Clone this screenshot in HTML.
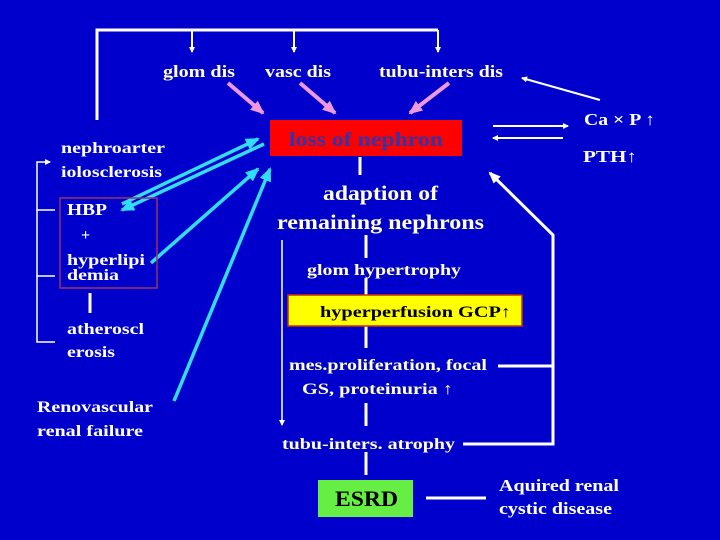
<!DOCTYPE html>
<html><head><meta charset="utf-8"><style>
html,body{margin:0;padding:0;background:#0000CC;}
svg{display:block}
text{font-family:"Liberation Serif",serif;font-weight:bold;}
.c{fill:#FFFFCC}.w{fill:#FFFFFF}
</style></head><body>
<svg width="720" height="540" viewBox="0 0 720 540" xmlns="http://www.w3.org/2000/svg">
<defs>
<marker id="aw" markerWidth="6" markerHeight="6" refX="5" refY="3" orient="auto" markerUnits="userSpaceOnUse"><path d="M0,0 L6,3 L0,6 z" fill="#fff"/></marker>
<marker id="ap" markerWidth="14" markerHeight="12" refX="12" refY="6" orient="auto" markerUnits="userSpaceOnUse"><path d="M0,0 L14,6 L0,12 z" fill="#EE99DD"/></marker>
<marker id="ac" markerWidth="14" markerHeight="12" refX="12" refY="6" orient="auto" markerUnits="userSpaceOnUse"><path d="M0,0 L14,6 L0,12 z" fill="#33DDFF"/></marker>
<marker id="aw2" markerWidth="12" markerHeight="10" refX="10" refY="5" orient="auto" markerUnits="userSpaceOnUse"><path d="M0,0 L12,5 L0,10 z" fill="#fff"/></marker>
</defs>
<g stroke="#fff" stroke-width="3" fill="none">
<polyline points="97,120 97,30 438,30"/>
</g>
<g stroke="#fff" stroke-width="2" fill="none">
<line x1="192" y1="30" x2="192" y2="52" marker-end="url(#aw)"/>
<line x1="294" y1="30" x2="294" y2="52" marker-end="url(#aw)"/>
<line x1="438" y1="30" x2="438" y2="52" marker-end="url(#aw)"/>
<line x1="493" y1="126" x2="568" y2="126" marker-end="url(#aw)"/>
<line x1="563" y1="138" x2="493" y2="138" marker-end="url(#aw)"/>
<line x1="600" y1="100" x2="522" y2="78" marker-end="url(#aw)"/>
<line x1="282" y1="240" x2="282" y2="425" stroke-width="1.5" marker-end="url(#aw)"/>
</g>
<g stroke="#fff" stroke-width="1.5" fill="none">
<polyline points="55,210 37,210 37,162 50,162" marker-end="url(#aw)"/>
<polyline points="55,276 37,276 37,342 55,342"/>
<line x1="37" y1="210" x2="37" y2="276"/>
</g>
<g stroke="#fff" stroke-width="3" fill="none">
<polyline points="463,444 553,444 553,235 490,173" marker-end="url(#aw2)"/>
<line x1="498" y1="366" x2="553" y2="366"/>
<line x1="360" y1="157" x2="360" y2="175"/>
<line x1="366" y1="235" x2="366" y2="258"/>
<line x1="366" y1="278" x2="366" y2="295"/>
<line x1="366" y1="326" x2="366" y2="348"/>
<line x1="366" y1="403" x2="366" y2="426"/>
<line x1="366" y1="452" x2="366" y2="475"/>
<line x1="90" y1="293" x2="90" y2="313"/>
<line x1="426" y1="498" x2="486" y2="498"/>
</g>
<g stroke="#EE99DD" stroke-width="4">
<line x1="228" y1="83" x2="263" y2="113" marker-end="url(#ap)"/>
<line x1="300" y1="83" x2="335" y2="113" marker-end="url(#ap)"/>
<line x1="449" y1="83" x2="410" y2="113" marker-end="url(#ap)"/>
</g>
<g stroke="#33DDFF" stroke-width="3.5">
<line x1="122" y1="204" x2="258" y2="139" marker-end="url(#ac)"/>
<line x1="264" y1="144" x2="122" y2="210" marker-end="url(#ac)"/>
<line x1="151" y1="263" x2="258" y2="169" marker-end="url(#ac)"/>
<line x1="174" y1="401" x2="270" y2="169" marker-end="url(#ac)"/>
</g>
<rect x="270" y="120" width="192" height="36" fill="#FF0000"/>
<text x="289" y="146" font-size="20" fill="#3333AA" textLength="154" lengthAdjust="spacingAndGlyphs">loss of nephron</text>
<rect x="60" y="198" width="97" height="90" fill="none" stroke="#993366" stroke-width="1.5"/>
<rect x="288" y="295" width="234" height="31" fill="#FFFF00" stroke="#CC3300" stroke-width="1.5"/>
<rect x="318" y="480" width="95" height="37" fill="#66EE44"/>
<g lengthAdjust="spacingAndGlyphs">
<text class="c" x="163" y="77" font-size="17" textLength="72" lengthAdjust="spacingAndGlyphs">glom dis</text>
<text class="c" x="265" y="77" font-size="17" textLength="66" lengthAdjust="spacingAndGlyphs">vasc dis</text>
<text class="c" x="379" y="77" font-size="17" textLength="124" lengthAdjust="spacingAndGlyphs">tubu-inters dis</text>
<text class="w" x="61" y="153" font-size="16" textLength="104" lengthAdjust="spacingAndGlyphs">nephroarter</text>
<text class="w" x="61" y="177" font-size="16" textLength="101" lengthAdjust="spacingAndGlyphs">iolosclerosis</text>
<text class="w" x="67" y="215" font-size="17" textLength="40" lengthAdjust="spacingAndGlyphs">HBP</text>
<text class="w" x="81" y="240" font-size="16" font-weight="normal">+</text>
<text class="w" x="67" y="265" font-size="16" textLength="78" lengthAdjust="spacingAndGlyphs">hyperlipi</text>
<text class="w" x="67" y="280" font-size="16" textLength="52" lengthAdjust="spacingAndGlyphs">demia</text>
<text class="w" x="67" y="334" font-size="16" textLength="77" lengthAdjust="spacingAndGlyphs">atheroscl</text>
<text class="w" x="67" y="357" font-size="16" textLength="48" lengthAdjust="spacingAndGlyphs">erosis</text>
<text class="w" x="37" y="412" font-size="16" textLength="116" lengthAdjust="spacingAndGlyphs">Renovascular</text>
<text class="w" x="37" y="436" font-size="16" textLength="106" lengthAdjust="spacingAndGlyphs">renal failure</text>
<text class="w" x="584" y="125" font-size="17" textLength="71" lengthAdjust="spacingAndGlyphs">Ca × P ↑</text>
<text class="w" x="583" y="162" font-size="17" textLength="54" lengthAdjust="spacingAndGlyphs">PTH↑</text>
<text class="c" x="323" y="200" font-size="21" textLength="115" lengthAdjust="spacingAndGlyphs">adaption of</text>
<text class="c" x="277" y="229" font-size="21" textLength="207" lengthAdjust="spacingAndGlyphs">remaining nephrons</text>
<text class="c" x="307" y="275" font-size="16" textLength="154" lengthAdjust="spacingAndGlyphs">glom hypertrophy</text>
<text x="320" y="317" font-size="16" fill="#000" textLength="191" lengthAdjust="spacingAndGlyphs">hyperperfusion GCP↑</text>
<text class="c" x="289" y="370" font-size="16" textLength="198" lengthAdjust="spacingAndGlyphs">mes.proliferation, focal</text>
<text class="c" x="302" y="394" font-size="16" textLength="151" lengthAdjust="spacingAndGlyphs">GS, proteinuria ↑</text>
<text class="c" x="282" y="449" font-size="16" textLength="173" lengthAdjust="spacingAndGlyphs">tubu-inters. atrophy</text>
<text x="335" y="506" font-size="22" fill="#000" font-weight="normal" textLength="63" lengthAdjust="spacingAndGlyphs">ESRD</text>
<text class="w" x="499" y="491" font-size="17" textLength="120" lengthAdjust="spacingAndGlyphs">Aquired renal</text>
<text class="w" x="499" y="514" font-size="17" textLength="113" lengthAdjust="spacingAndGlyphs">cystic disease</text>
</g>
</svg>
</body></html>
